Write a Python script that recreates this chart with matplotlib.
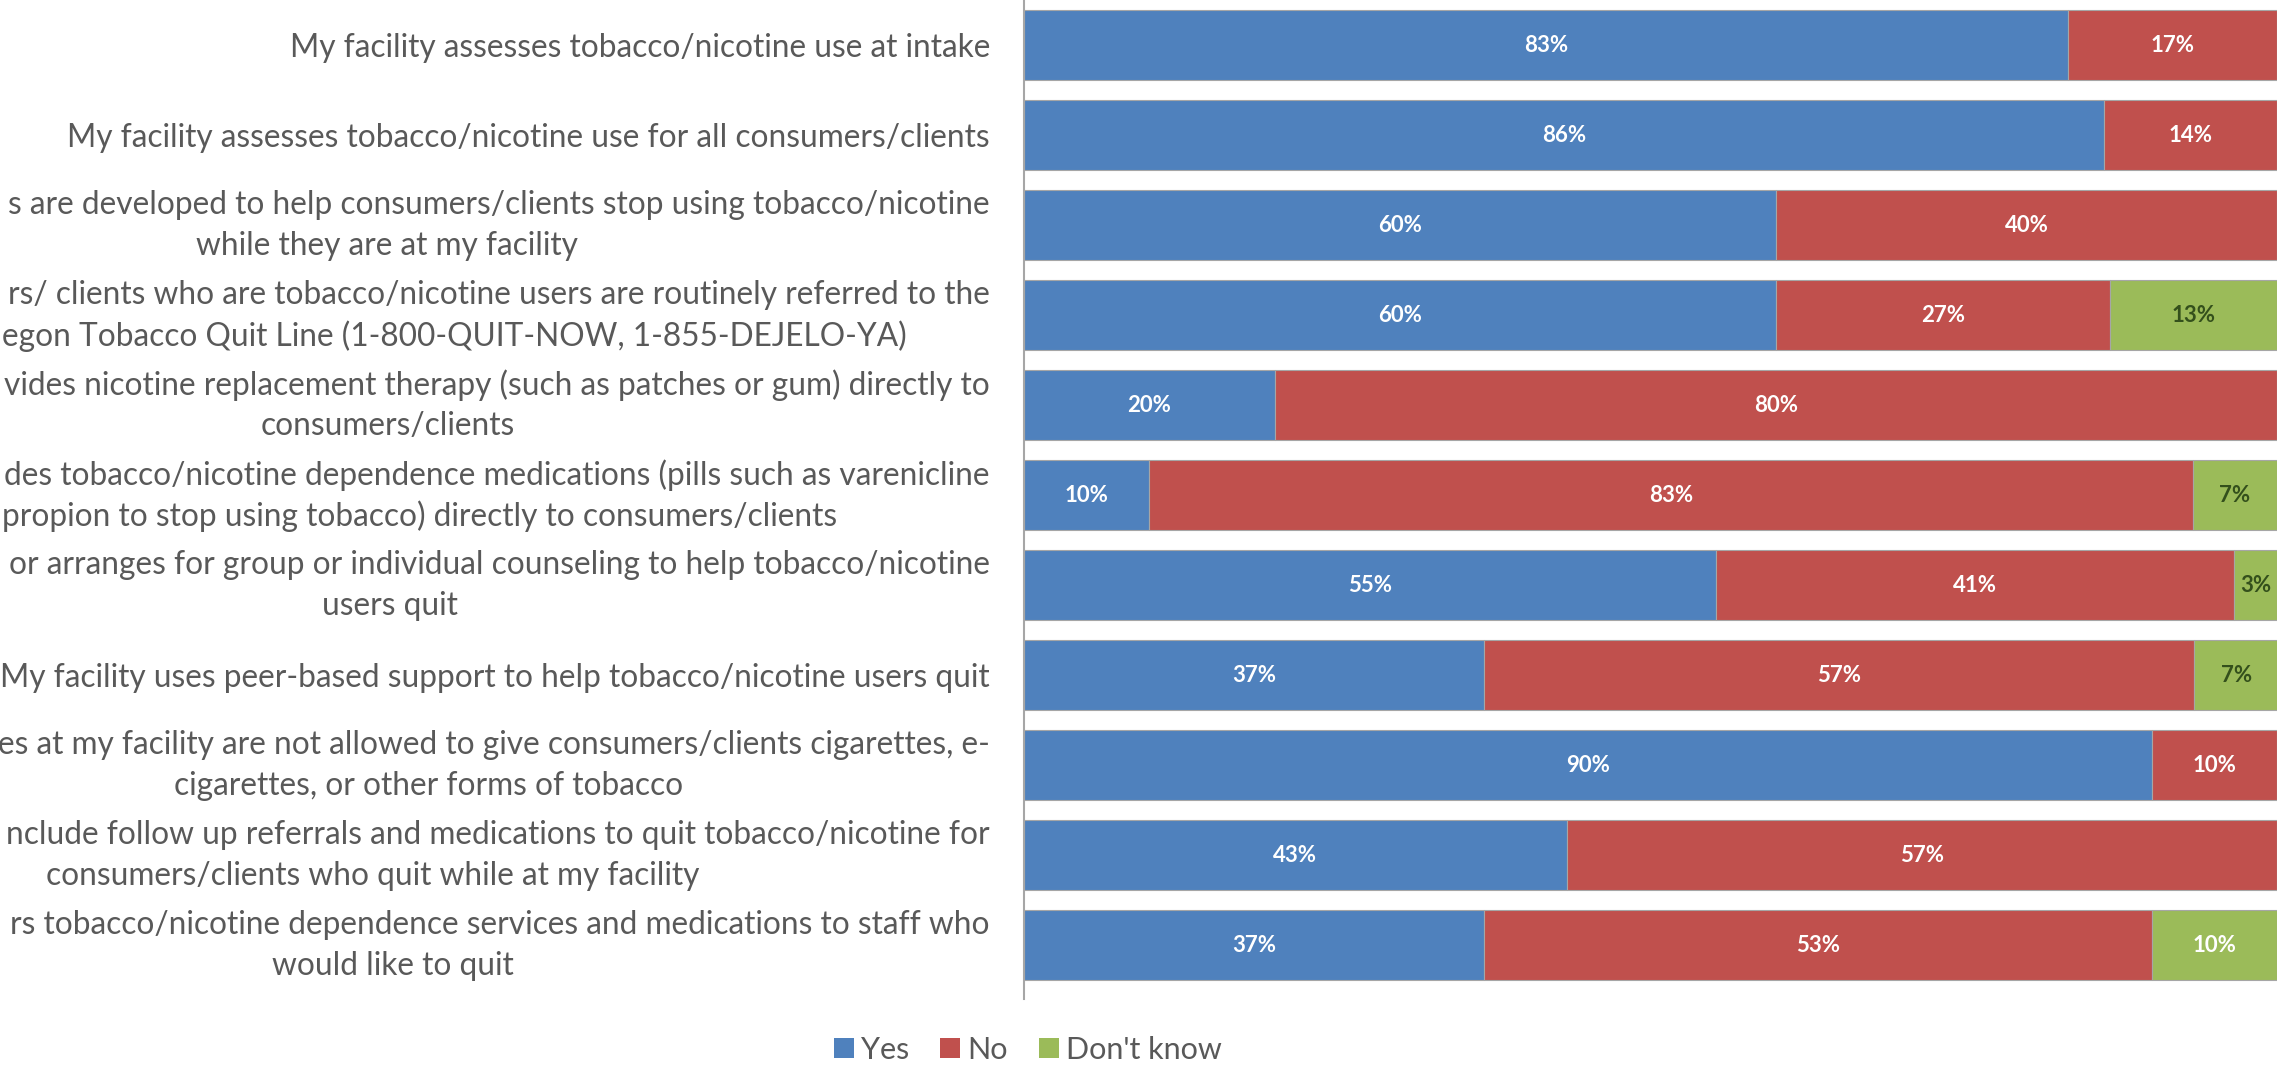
import matplotlib
matplotlib.use("Agg")
import matplotlib.pyplot as plt
import matplotlib.transforms as mtransforms
from matplotlib.patches import Patch

# === Данные опроса (в процентах) ===
categories_line1 = [
    "My facility assesses tobacco/nicotine use at intake",
    "My facility assesses tobacco/nicotine use for all consumers/clients",
    "s are developed to help consumers/clients stop using tobacco/nicotine",
    "rs/ clients who are tobacco/nicotine users are routinely referred to the",
    "vides nicotine replacement therapy (such as patches or gum) directly to",
    "des tobacco/nicotine dependence medications (pills such as varenicline",
    "or arranges for group or individual counseling to help tobacco/nicotine",
    "My facility uses peer-based support to help tobacco/nicotine users quit",
    "es at my facility are not allowed to give consumers/clients cigarettes, e-",
    "nclude follow up referrals and medications to quit tobacco/nicotine for",
    "rs tobacco/nicotine dependence services and medications to staff who",
]
categories_line2 = [
    "",
    "",
    "while they are at my facility",
    "egon Tobacco Quit Line (1-800-QUIT-NOW, 1-855-DEJELO-YA)",
    "consumers/clients",
    "propion to stop using tobacco) directly to consumers/clients",
    "users quit",
    "",
    "cigarettes, or other forms of tobacco",
    "consumers/clients who quit while at my facility",
    "would like to quit",
]

series_names = ["Yes", "No", "Don't know"]
yes = [83.3, 86.2, 60.0, 60.0, 20.0, 10.0, 55.2, 36.7, 90.0, 43.3, 36.7]
no = [16.7, 13.8, 40.0, 26.7, 80.0, 83.3, 41.4, 56.7, 10.0, 56.7, 53.3]
dont_know = [0, 0, 0, 13.3, 0, 6.7, 3.4, 6.7, 0, 0, 10.0]

# === Оформление ===
colors = ["#4F81BD", "#C0504D", "#9BBB59"]
text_grey = "#595959"
dk_label_colors = ["#34501C"] * 10 + ["white"]

# вторая строка подписи: выравнивание и x в пикселях фигуры
line2_align = ["", "", "center", "left", "center", "left", "center", "", "center", "center", "center"]
line2_x_px = [0, 0, 387, 2, 388, 2, 390, 0, 429, 373, 393]

W, H = 2278, 1067
plt.rcParams["font.family"] = ["Lato", "DejaVu Sans"]

fig = plt.figure(figsize=(W / 100, H / 100), dpi=100)
ax = fig.add_axes([1024 / W, 68 / H, 1253 / W, 999 / H])

n = len(yes)
rows = list(range(n))
left = [0.0] * n
for vals, color, name in zip([yes, no, dont_know], colors, series_names):
    ax.barh(rows, vals, left=left, height=0.78, color=color,
            edgecolor="#A6A6A6", linewidth=0.8, label=name)
    left = [l + v for l, v in zip(left, vals)]

# === Подписи значений внутри сегментов ===
start = [0.0] * n
for k, vals in enumerate([yes, no, dont_know]):
    for i, v in enumerate(vals):
        if v > 0:
            c = "white" if k < 2 else dk_label_colors[i]
            ax.text(start[i] + v / 2, i, f"{v:.0f}%", ha="center", va="center",
                    fontsize=16, fontweight="bold", color=c)
        start[i] += v

ax.set_xlim(0, 100)
ax.set_ylim(10.6, -0.5)
ax.set_xticks([])
ax.set_yticks([])
for s in ["top", "right", "bottom"]:
    ax.spines[s].set_visible(False)
ax.spines["left"].set_color("#A6A6A6")
ax.spines["left"].set_linewidth(1.5)

# === Подписи категорий слева ===
fs = 22.8
trans = mtransforms.blended_transform_factory(fig.transFigure, ax.transData)
for i in rows:
    if categories_line2[i]:
        ax.text(990 / W, i - 0.225, categories_line1[i], transform=trans,
                ha="right", va="center", fontsize=fs, color=text_grey)
        ax.text(line2_x_px[i] / W, i + 0.235, categories_line2[i], transform=trans,
                ha=line2_align[i], va="center", fontsize=fs, color=text_grey)
    else:
        ax.text(990 / W, i + 0.03, categories_line1[i], transform=trans,
                ha="right", va="center", fontsize=fs, color=text_grey)

# === Легенда ===
handles = [Patch(facecolor=c, edgecolor="none") for c in colors]
leg = fig.legend(handles, series_names, loc="center", bbox_to_anchor=(1028 / W, 17 / H),
                 ncol=3, frameon=False, fontsize=22, handlelength=0.65, handleheight=0.65,
                 handletextpad=0.25, columnspacing=1.0)
for t in leg.get_texts():
    t.set_color(text_grey)

fig.savefig("out.png", dpi=100)
